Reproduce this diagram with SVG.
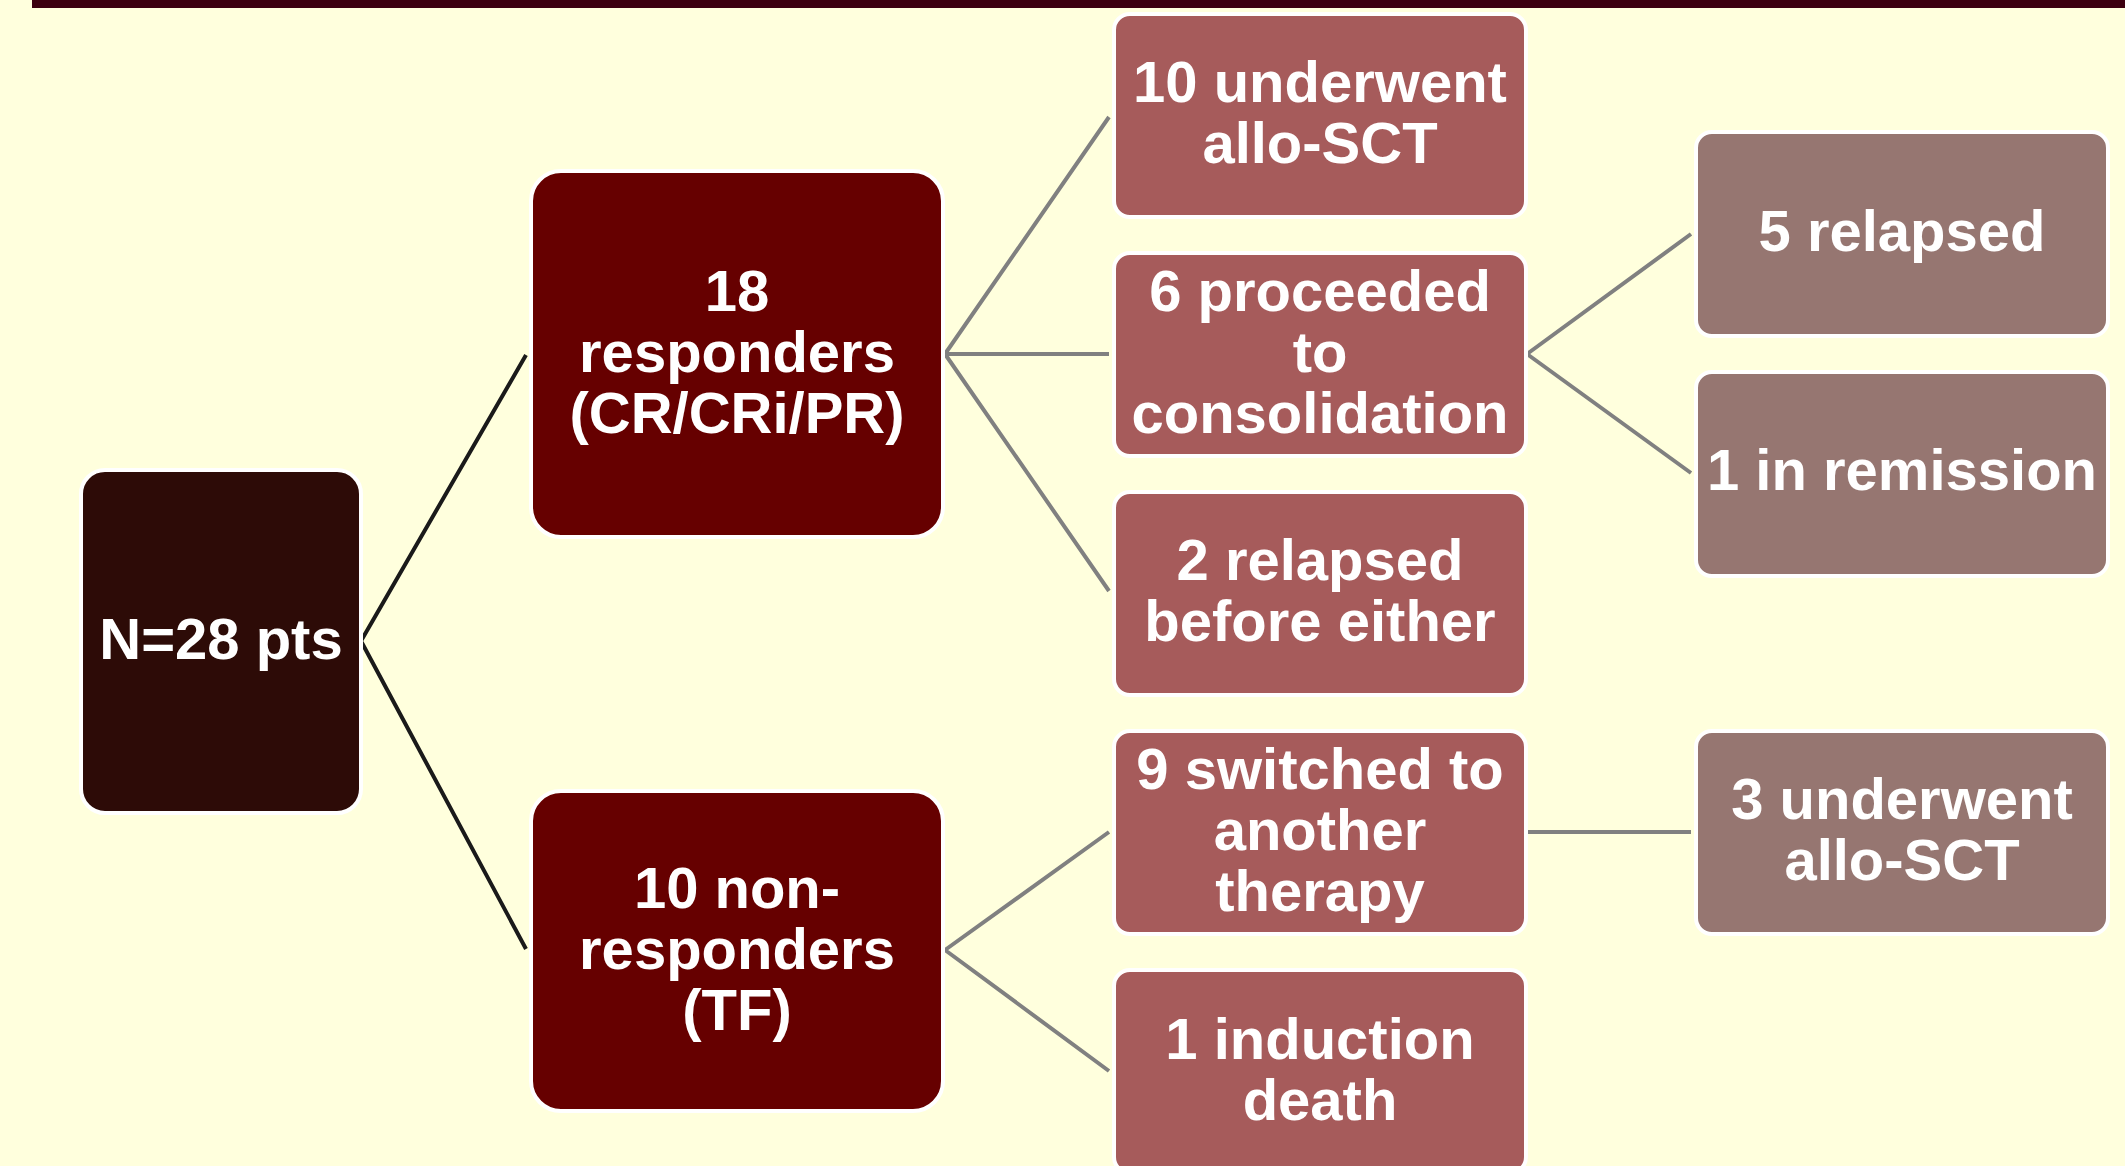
<svg xmlns="http://www.w3.org/2000/svg" width="2125" height="1166" viewBox="0 0 2125 1166">
<style>
.t{font-family:"Liberation Sans",Arial,sans-serif;font-weight:bold;font-size:58px;fill:#ffffff;text-anchor:middle}
.box{stroke:#ffffff;stroke-width:4}
.root{fill:#2d0b07}
.l1{fill:#660000}
.l2{fill:#a65b5b}
.l3{fill:#967671}
.cb{stroke:#1a1a1a;stroke-width:4;fill:none}
.cg{stroke:#808080;stroke-width:4;fill:none}
</style>
<rect width="2125" height="1166" fill="#ffffdd"/>
<rect x="32" y="0" width="2093" height="8" fill="#3d0010"/>
<g id="connectors">
<path class="cb" d="M361,641 L526,355 M361,641 L526,949"/>
<path class="cg" d="M945,354 L1109,117 M945,354 L1109,354 M945,354 L1109,591"/>
<path class="cg" d="M945,950 L1109,832 M945,950 L1109,1071"/>
<path class="cg" d="M1527,354 L1691,234 M1527,354 L1691,473"/>
<path class="cg" d="M1527,832 L1691,832"/>
</g>
<g id="n-root"><rect class="box root" x="81" y="470" width="280" height="343" rx="24"/><text class="t" x="221" y="659">N=28 pts</text></g>
<g id="n-resp"><rect class="box l1" x="531" y="171" width="412" height="366" rx="30"/><text class="t" x="737" y="311">18</text><text class="t" x="737" y="372">responders</text><text class="t" x="737" y="433">(CR/CRi/PR)</text></g>
<g id="n-nonresp"><rect class="box l1" x="531" y="791" width="412" height="320" rx="30"/><text class="t" x="737" y="908">10 non-</text><text class="t" x="737" y="969">responders</text><text class="t" x="737" y="1030">(TF)</text></g>
<g id="n-allo10"><rect class="box l2" x="1114" y="14" width="412" height="203" rx="16"/><text class="t" x="1320" y="102">10 underwent</text><text class="t" x="1320" y="163">allo-SCT</text></g>
<g id="n-consol"><rect class="box l2" x="1114" y="253" width="412" height="203" rx="16"/><text class="t" x="1320" y="311">6 proceeded</text><text class="t" x="1320" y="372">to</text><text class="t" x="1320" y="433">consolidation</text></g>
<g id="n-relbefore"><rect class="box l2" x="1114" y="492" width="412" height="203" rx="16"/><text class="t" x="1320" y="580">2 relapsed</text><text class="t" x="1320" y="641">before either</text></g>
<g id="n-switched"><rect class="box l2" x="1114" y="731" width="412" height="203" rx="16"/><text class="t" x="1320" y="789">9 switched to</text><text class="t" x="1320" y="850">another</text><text class="t" x="1320" y="911">therapy</text></g>
<g id="n-death"><rect class="box l2" x="1114" y="970" width="412" height="203" rx="16"/><text class="t" x="1320" y="1059">1 induction</text><text class="t" x="1320" y="1120">death</text></g>
<g id="n-relapsed5"><rect class="box l3" x="1696" y="132" width="412" height="204" rx="16"/><text class="t" x="1902" y="251">5 relapsed</text></g>
<g id="n-remission"><rect class="box l3" x="1696" y="372" width="412" height="204" rx="16"/><text class="t" x="1902" y="490">1 in remission</text></g>
<g id="n-allo3"><rect class="box l3" x="1696" y="731" width="412" height="203" rx="16"/><text class="t" x="1902" y="819">3 underwent</text><text class="t" x="1902" y="880">allo-SCT</text></g>
</svg>
